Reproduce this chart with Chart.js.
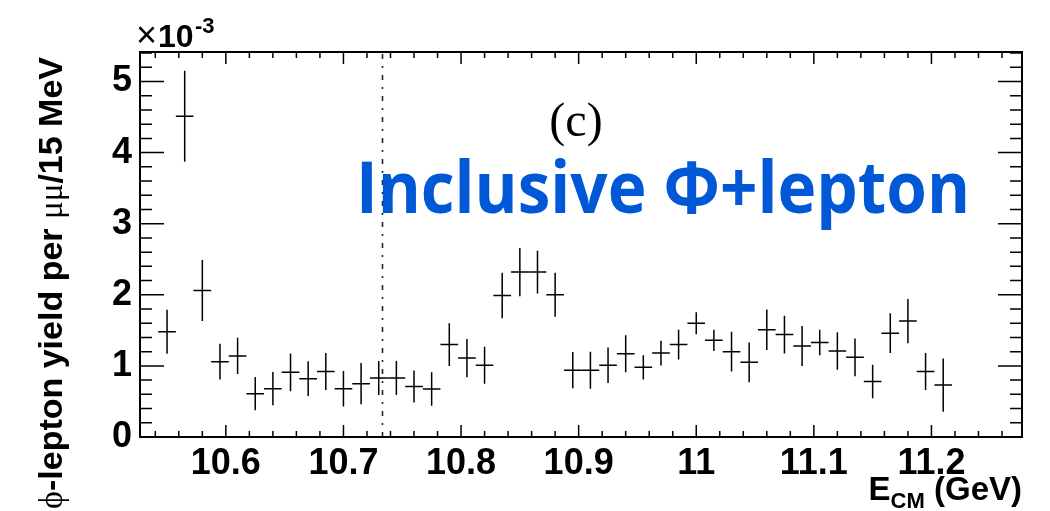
<!DOCTYPE html>
<html><head><meta charset="utf-8">
<script src="https://cdn.jsdelivr.net/npm/chart.js@4.4.1/dist/chart.umd.min.js"></script>
<style>html,body{margin:0;padding:0;background:#fff;overflow:hidden}</style>
</head><body>
<canvas id="c" width="1050" height="511" style="width:1050px;height:511px;display:block"></canvas>
<script>
// ---- data (yield in units of 1e-3) ----
const energies = [10.550,10.565,10.580,10.595,10.610,10.625,10.640,10.655,10.670,10.685,
                  10.700,10.715,10.730,10.745,10.760,10.775,10.790,10.805,10.820,10.835,
                  10.850,10.865,10.880,10.895,10.910,10.925,10.940,10.955,10.970,10.985,
                  11.000,11.015,11.030,11.045,11.060,11.075,11.090,11.105,11.120,11.135,
                  11.150,11.165,11.180,11.195,11.210];
const yields   = [1.48,4.51,2.06,1.06,1.14,0.61,0.68,0.91,0.82,0.92,
                  0.68,0.75,0.83,0.83,0.71,0.675,1.30,1.11,1.01,1.99,
                  2.32,2.32,2.00,0.94,0.94,1.01,1.17,0.98,1.18,1.30,
                  1.60,1.36,1.20,1.05,1.51,1.44,1.28,1.33,1.21,1.12,
                  0.78,1.46,1.63,0.92,0.73];
const errors   = [0.31,0.64,0.43,0.25,0.255,0.235,0.235,0.265,0.245,0.26,
                  0.25,0.29,0.24,0.24,0.225,0.235,0.30,0.27,0.26,0.32,
                  0.34,0.30,0.31,0.255,0.26,0.25,0.26,0.17,0.175,0.21,
                  0.155,0.15,0.28,0.28,0.285,0.265,0.28,0.18,0.265,0.265,
                  0.236,0.28,0.31,0.26,0.375];
const binHalfWidth = 0.0075;
const thresholdEnergy = 10.7325;
const xTickValues = [10.6,10.7,10.8,10.9,11.0,11.1,11.2];
const xTickLabels = ['10.6','10.7','10.8','10.9','11','11.1','11.2'];
const yTickValues = [0,1,2,3,4,5];
const yTickLabels = ['0','1','2','3','4','5'];
const xRange = [10.527, 11.277];
const yRange = [0, 5.415];

const SANS = '"Liberation Sans", Arial, sans-serif';
const SERIF = '"Liberation Serif", "Times New Roman", serif';

const rootPlugin = {
  id: 'rootStyle',
  afterDatasetsDraw(chart) {
    const ctx = chart.ctx, xs = chart.scales.x, ys = chart.scales.y, a = chart.chartArea;
    ctx.save();
    // error crosses
    ctx.strokeStyle = '#000'; ctx.lineWidth = 1.5; ctx.lineCap = 'butt';
    const ds = chart.data.datasets[0].data;
    ds.forEach((p, i) => {
      const px = xs.getPixelForValue(p.x), py = ys.getPixelForValue(p.y);
      const x0 = xs.getPixelForValue(p.x - binHalfWidth), x1 = xs.getPixelForValue(p.x + binHalfWidth);
      const yt = ys.getPixelForValue(p.y + errors[i]), yb = ys.getPixelForValue(Math.max(0, p.y - errors[i]));
      ctx.beginPath();
      ctx.moveTo(x0, py); ctx.lineTo(x1, py);
      ctx.moveTo(px, yt); ctx.lineTo(px, yb);
      ctx.stroke();
    });
    // dash-dot threshold line
    const tx = Math.round(xs.getPixelForValue(thresholdEnergy)) + 0.5;
    ctx.strokeStyle = '#222'; ctx.lineWidth = 1.6;
    ctx.setLineDash([5, 7, 2, 7]);
    ctx.beginPath(); ctx.moveTo(tx, a.bottom); ctx.lineTo(tx, a.top); ctx.stroke();
    ctx.setLineDash([]);
    // ticks (inward, mirrored)
    ctx.strokeStyle = '#000'; ctx.lineWidth = 1.5;
    ctx.beginPath();
    for (let k = 0; ; k++) {
      const v = 10.54 + k * 0.02;
      if (v > xRange[1]) break;
      const isMajor = Math.abs(v * 10 - Math.round(v * 10)) < 1e-6;
      const len = isMajor ? 12 : 6;
      const px = xs.getPixelForValue(v);
      ctx.moveTo(px, a.bottom); ctx.lineTo(px, a.bottom - len);
      ctx.moveTo(px, a.top); ctx.lineTo(px, a.top + len);
    }
    for (let k = 0; ; k++) {
      const v = k * 0.2;
      if (v > yRange[1]) break;
      const isMajor = Math.abs(v - Math.round(v)) < 1e-6;
      const len = isMajor ? 24 : 12;
      const py = ys.getPixelForValue(v);
      ctx.moveTo(a.left, py); ctx.lineTo(a.left + len, py);
      ctx.moveTo(a.right, py); ctx.lineTo(a.right - len, py);
    }
    ctx.stroke();
    // frame
    ctx.lineWidth = 2;
    ctx.strokeRect(a.left, a.top, a.right - a.left, a.bottom - a.top);
    ctx.restore();
  },
  afterDraw(chart) {
    const ctx = chart.ctx, a = chart.chartArea;
    ctx.save();
    ctx.fillStyle = '#000';
    ctx.textBaseline = 'alphabetic';
    ctx.textAlign = 'left';
    // x10^-3
    ctx.font = '36px ' + SANS;
    ctx.fillText('\u00d7', 136, 47);
    ctx.font = 'bold 32px ' + SANS;
    ctx.fillText('10', 158, 47);
    ctx.font = 'bold 22px ' + SANS;
    ctx.fillText('-3', 195, 33);
    // (c)
    ctx.font = '48px ' + SERIF;
    ctx.textAlign = 'center';
    ctx.fillText('(c)', 576, 136);
    // Inclusive Φ+lepton
    ctx.textAlign = 'left';
    ctx.font = 'bold 72px "Open Sans", "Noto Sans", sans-serif';
    const label = 'Inclusive \u03a6+lepton';
    const w = ctx.measureText(label).width;
    const targetW = 614;
    ctx.save();
    ctx.translate(356, 213);
    ctx.scale(targetW / w, 1);
    ctx.fillStyle = 'rgb(0,88,214)';
    ctx.fillText(label, 0, 0);
    ctx.restore();
    // x title: E_CM (GeV)
    ctx.fillStyle = '#000';
    const f1 = 'bold 33px ' + SANS, f2 = 'bold 22px ' + SANS;
    ctx.font = f1; const wE = ctx.measureText('E').width; const wG = ctx.measureText(' (GeV)').width;
    ctx.font = f2; const wC = ctx.measureText('CM').width;
    let sx = a.right - (wE + wC + wG);
    const by = 500;
    ctx.font = f1; ctx.fillText('E', sx, by); sx += wE;
    ctx.font = f2; ctx.fillText('CM', sx, by + 8); sx += wC;
    ctx.font = f1; ctx.fillText(' (GeV)', sx, by);
    // y title (rotated, ending at top)
    const segs = [
      ['\u03d5', '34px ' + SERIF],
      ['-lepton yield per ', 'bold 34px ' + SANS],
      ['\u03bc\u03bc', '33px ' + SERIF],
      ['/15 MeV', 'bold 34px ' + SANS]
    ];
    let total = 0;
    segs.forEach(s => { ctx.font = s[1]; s.push(ctx.measureText(s[0]).width); total += s[2]; });
    ctx.translate(62, 57);
    ctx.rotate(-Math.PI / 2);
    let cx = -total;
    segs.forEach(s => { ctx.font = s[1]; ctx.fillText(s[0], cx, 0); cx += s[2]; });
    ctx.restore();
  }
};

new Chart(document.getElementById('c'), {
  type: 'scatter',
  data: {
    datasets: [{
      data: energies.map((e, i) => ({ x: e, y: yields[i] })),
      pointRadius: 0, pointHoverRadius: 0, showLine: false
    }]
  },
  options: {
    responsive: false, animation: false, devicePixelRatio: 1,
    layout: { padding: { top: 52, right: 28, left: 0, bottom: 0 } },
    plugins: { legend: { display: false }, tooltip: { enabled: false } },
    events: [],
    scales: {
      x: {
        type: 'linear', min: xRange[0], max: xRange[1],
        grid: { display: false, drawTicks: false }, border: { display: false },
        afterBuildTicks: s => { s.ticks = xTickValues.map(v => ({ value: v })); },
        afterFit: s => { s.height = 74; },
        ticks: {
          autoSkip: false, maxRotation: 0, padding: 5, color: '#000',
          font: { family: SANS, size: 36, weight: 'bold' },
          callback: (v) => { const i = xTickValues.findIndex(t => Math.abs(t - v) < 1e-6); return i >= 0 ? xTickLabels[i] : ''; }
        }
      },
      y: {
        type: 'linear', min: yRange[0], max: yRange[1],
        grid: { display: false, drawTicks: false }, border: { display: false },
        afterBuildTicks: s => { s.ticks = yTickValues.map(v => ({ value: v })); },
        afterFit: s => { s.width = 140; },
        ticks: {
          autoSkip: false, padding: 8, color: '#000',
          font: { family: SANS, size: 36, weight: 'bold' },
          callback: (v) => { const i = yTickValues.findIndex(t => Math.abs(t - v) < 1e-6); return i >= 0 ? yTickLabels[i] : ''; }
        }
      }
    }
  },
  plugins: [rootPlugin]
});
</script>
</body></html>
